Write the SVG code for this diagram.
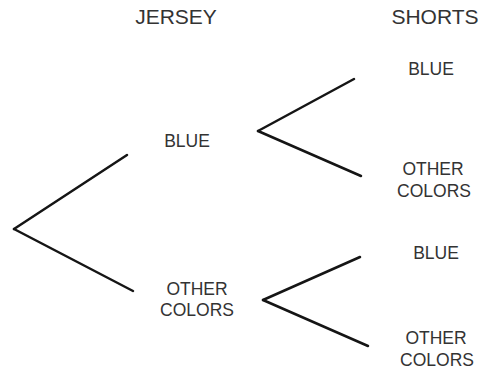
<svg xmlns="http://www.w3.org/2000/svg" width="482" height="371" viewBox="0 0 482 371">
<style>
text{font-family:"Liberation Sans",Arial,sans-serif;fill:#333;text-anchor:middle}
.h{font-size:21px}
.t{font-size:17.5px}
.c line{stroke:#151515;stroke-width:2.5;stroke-linecap:round}
</style>
<rect width="482" height="371" fill="#fff"/>
<g id="headers">
<text class="h" x="176" y="24">JERSEY</text>
<text class="h" x="435" y="24">SHORTS</text>
</g>
<g class="c" id="connectors">
<line x1="14" y1="229" x2="127" y2="155"/>
<line x1="14" y1="229" x2="133" y2="291"/>
<line x1="258" y1="131" x2="354" y2="79"/>
<line x1="258" y1="131" x2="361" y2="176"/>
<line x1="263" y1="300" x2="360" y2="257"/>
<line x1="263" y1="300" x2="368" y2="346"/>
</g>
<g id="jersey-blue"><text class="t" x="187" y="147">BLUE</text></g>
<g id="jersey-other"><text class="t" x="197" y="295">OTHER</text><text class="t" x="197" y="316">COLORS</text></g>
<g id="shorts-blue-1"><text class="t" x="431" y="75">BLUE</text></g>
<g id="shorts-other-1"><text class="t" x="433" y="175">OTHER</text><text class="t" x="434" y="197">COLORS</text></g>
<g id="shorts-blue-2"><text class="t" x="436" y="259">BLUE</text></g>
<g id="shorts-other-2"><text class="t" x="436" y="344">OTHER</text><text class="t" x="437" y="366">COLORS</text></g>
</svg>
